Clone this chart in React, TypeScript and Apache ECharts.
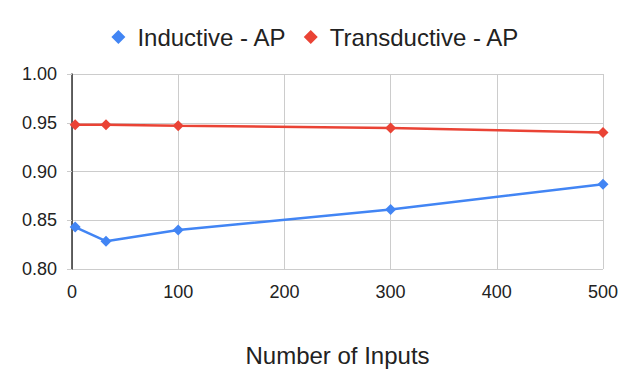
import React, { useEffect, useRef } from "react";
import * as echarts from "echarts";

const xInputs = [3, 32, 100, 300, 500];
const inductiveAP = [0.843, 0.8285, 0.840, 0.861, 0.887];
const transductiveAP = [0.948, 0.948, 0.947, 0.9445, 0.940];
const seriesNames = ["Inductive - AP", "Transductive - AP"];
const xAxisTitle = "Number of Inputs";

export default function App() {
  const ref = useRef<HTMLDivElement>(null);
  useEffect(() => {
    if (!ref.current) return;
    document.body.style.margin = "0";
    const chart = echarts.init(ref.current, null, { renderer: "svg" });
    const font = "Liberation Sans, Arial, sans-serif";
    chart.setOption({
      animation: false,
      backgroundColor: "#ffffff",
      legend: {
        top: 20,
        left: "center",
        itemWidth: 14,
        itemHeight: 14,
        itemGap: 17,
        textStyle: { fontFamily: font, fontSize: 24, color: "#222", padding: [0, 0, 0, 7] },
        data: seriesNames.map((n) => ({ name: n, icon: "diamond" })),
      },
      grid: { left: 72, right: 28, top: 74, bottom: 120, containLabel: false },
      xAxis: {
        type: "value",
        min: 0,
        max: 500,
        interval: 100,
        name: xAxisTitle,
        nameLocation: "middle",
        nameGap: 74,
        nameTextStyle: { fontFamily: font, fontSize: 24, color: "#222" },
        axisLine: { show: false },
        axisTick: { show: false },
        axisLabel: { fontFamily: font, fontSize: 18, color: "#222", margin: 14 },
        splitLine: { show: true, lineStyle: { color: "#cccccc", width: 1 } },
      },
      yAxis: {
        type: "value",
        min: 0.8,
        max: 1.0,
        interval: 0.05,
        axisLine: { show: true, lineStyle: { color: "#333", width: 1.5 } },
        axisTick: { show: true, length: 5, lineStyle: { color: "#cccccc", width: 1 } },
        axisLabel: {
          fontFamily: font,
          fontSize: 18,
          color: "#222",
          margin: 15,
          formatter: (v: number) => v.toFixed(2),
        },
        splitLine: { show: true, lineStyle: { color: "#cccccc", width: 1 } },
      },
      series: [
        {
          name: seriesNames[0],
          type: "line",
          data: xInputs.map((x, i) => [x, inductiveAP[i]]),
          symbol: "diamond",
          symbolSize: 11,
          itemStyle: { color: "#4285f4" },
          lineStyle: { color: "#4285f4", width: 2.5 },
        },
        {
          name: seriesNames[1],
          type: "line",
          data: xInputs.map((x, i) => [x, transductiveAP[i]]),
          symbol: "diamond",
          symbolSize: 11,
          itemStyle: { color: "#ea4335" },
          lineStyle: { color: "#ea4335", width: 2.5 },
        },
      ],
    });
    return () => chart.dispose();
  }, []);
  return <div ref={ref} style={{ width: 631, height: 389 }} />;
}
